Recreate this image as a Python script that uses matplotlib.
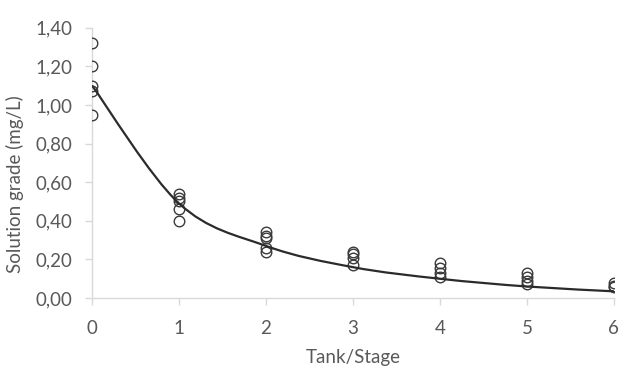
import numpy as np
import matplotlib.pyplot as plt
from matplotlib.path import Path
from matplotlib.patches import PathPatch

plt.rcParams['font.family'] = ['Lato', 'DejaVu Sans']

# measured solution grade per tank (mg/L)
stages = [0, 1, 2, 3, 4, 5, 6]
grade_t0 = [1.32, 1.20, 1.10, 1.07, 0.95]
grade_t1 = [0.54, 0.52, 0.50, 0.46, 0.40]
grade_t2 = [0.34, 0.32, 0.31, 0.26, 0.24]
grade_t3 = [0.24, 0.23, 0.21, 0.17]
grade_t4 = [0.18, 0.155, 0.13, 0.11]
grade_t5 = [0.13, 0.11, 0.09, 0.075]
grade_t6 = [0.078, 0.065, 0.055]
measured = [grade_t0, grade_t1, grade_t2, grade_t3, grade_t4, grade_t5, grade_t6]

# model prediction at each stage
model = [1.10, 0.49, 0.27, 0.16, 0.10, 0.06, 0.035]

fig = plt.figure(figsize=(6.22, 3.68), dpi=100)
ax = fig.add_axes([0.148, 0.19, 0.839, 0.735])

for s, vals in zip(stages, measured):
    ax.plot([s] * len(vals), vals, linestyle='none', marker='o', markersize=7.6,
            markerfacecolor='none', markeredgecolor='#3a3a3a', markeredgewidth=1.0, zorder=3)

# smoothed model line (Catmull-Rom style bezier through the model points)
pts = np.column_stack([stages, model]).astype(float)
verts = [tuple(pts[0])]
codes = [Path.MOVETO]
n = len(pts)
for i in range(n - 1):
    p0 = pts[i - 1] if i > 0 else pts[i]
    p1, p2 = pts[i], pts[i + 1]
    p3 = pts[i + 2] if i + 2 < n else pts[i + 1]
    c1 = p1 + (p2 - p0) / 6.0
    c2 = p2 - (p3 - p1) / 6.0
    verts += [tuple(c1), tuple(c2), tuple(p2)]
    codes += [Path.CURVE4] * 3
ax.add_patch(PathPatch(Path(verts, codes), facecolor='none', edgecolor='#2b2b2b',
                       linewidth=1.6, zorder=4))

ax.set_xlim(0, 6)
ax.set_ylim(0, 1.40)
ax.set_xticks(stages)
ax.set_yticks(np.arange(0, 1.41, 0.2))
ax.set_yticklabels([f'{v:.2f}'.replace('.', ',') for v in np.arange(0, 1.41, 0.2)])

for side in ['top', 'right']:
    ax.spines[side].set_visible(False)
for side in ['left', 'bottom']:
    ax.spines[side].set_color('#d9d9d9')
    ax.spines[side].set_linewidth(1.0)
ax.tick_params(axis='both', colors='#d9d9d9', labelcolor='#595959', labelsize=13.5,
               length=5, width=1.0)
ax.tick_params(axis='x', pad=11)
ax.tick_params(axis='y', pad=9)

ax.set_xlabel('Tank/Stage', fontsize=13.5, color='#595959')
ax.set_ylabel('Solution grade (mg/L)', fontsize=13.5, color='#595959')
ax.xaxis.set_label_coords(0.5, -0.19)
ax.yaxis.set_label_coords(-0.13, 0.42)

fig.savefig('out.png', dpi=100)
